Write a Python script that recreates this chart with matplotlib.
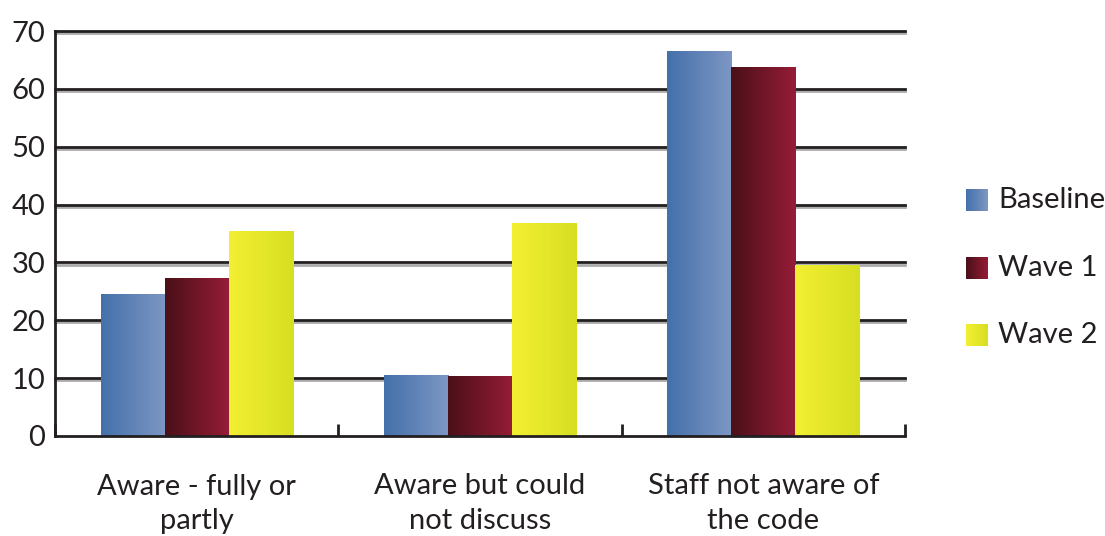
import numpy as np
import matplotlib.pyplot as plt
import matplotlib.patheffects as pe
from matplotlib.colors import LinearSegmentedColormap

categories = ['Aware - fully or\npartly', 'Aware but could\nnot discuss', 'Staff not aware of\nthe code']
series = ['Baseline', 'Wave 1', 'Wave 2']
baseline = [24.5, 10.4, 66.5]
wave1 = [27.3, 10.2, 63.7]
wave2 = [35.4, 36.7, 29.4]
y_ticks = [0, 10, 20, 30, 40, 50, 60, 70]

# left/right colours of the horizontal gradient in each bar
gradients = [('#4470aa', '#7d97c4'), ('#4a1018', '#961c37'), ('#f4ef32', '#d6df22')]
ink = '#231f20'

plt.rcParams['font.family'] = ['Lato', 'DejaVu Sans']

W, H = 1105, 536
fig = plt.figure(figsize=(W / 100, H / 100), dpi=100)
ax = fig.add_axes([55 / W, 1 - 436 / H, 850 / W, 405 / H])

x = np.arange(len(categories))
width = 0.226
grad = np.linspace(0, 1, 256).reshape(1, -1)
cmaps = []
for i, (vals, (c0, c1)) in enumerate(zip([baseline, wave1, wave2], gradients)):
    cmap = LinearSegmentedColormap.from_list(series[i], [c0, c1])
    cmaps.append(cmap)
    bars = ax.bar(x + (i - 1) * width, vals, width, color='none', zorder=3)
    for b in bars:
        ax.imshow(grad, cmap=cmap, aspect='auto', interpolation='bilinear',
                  extent=[b.get_x(), b.get_x() + b.get_width(), 0, b.get_height()],
                  zorder=3)

ax.set_xlim(-0.5, len(categories) - 0.5)
ax.set_ylim(0, 70)

# dark gridlines with a soft grey shadow underneath
for yv in y_ticks[1:]:
    ax.axhline(yv, color=ink, lw=2, zorder=2, clip_on=False,
               path_effects=[pe.SimpleLineShadow(offset=(0, -1.5), shadow_color='#888888', alpha=0.7),
                             pe.Normal()])

for s in ['top', 'right']:
    ax.spines[s].set_visible(False)
for s in ['left', 'bottom']:
    ax.spines[s].set_color(ink)
    ax.spines[s].set_linewidth(2)
    ax.spines[s].set_zorder(4)

ax.set_yticks(y_ticks)
ax.set_yticklabels([str(v) for v in y_ticks], fontsize=21, color=ink)
ax.tick_params(axis='y', length=0, pad=7)

ax.set_xticks(np.arange(len(categories) + 1) - 0.5)
ax.set_xticklabels([])
ax.tick_params(axis='x', which='major', direction='in', length=9, width=2, color=ink)
ax.set_xticks(x, minor=True)
ax.set_xticklabels(categories, minor=True, fontsize=21, color=ink, linespacing=1.4)
ax.tick_params(axis='x', which='minor', length=0, pad=27)

# legend with gradient swatches
rows = [200, 268, 335]
for name, cmap, yc in zip(series, cmaps, rows):
    sw = fig.add_axes([966 / W, 1 - (yc + 11) / H, 22 / W, 22 / H])
    sw.imshow(grad, cmap=cmap, aspect='auto', interpolation='bilinear')
    sw.axis('off')
    fig.text(998 / W, 1 - yc / H, name, fontsize=21, color=ink, va='center', ha='left')

fig.savefig('out.png', dpi=100)
